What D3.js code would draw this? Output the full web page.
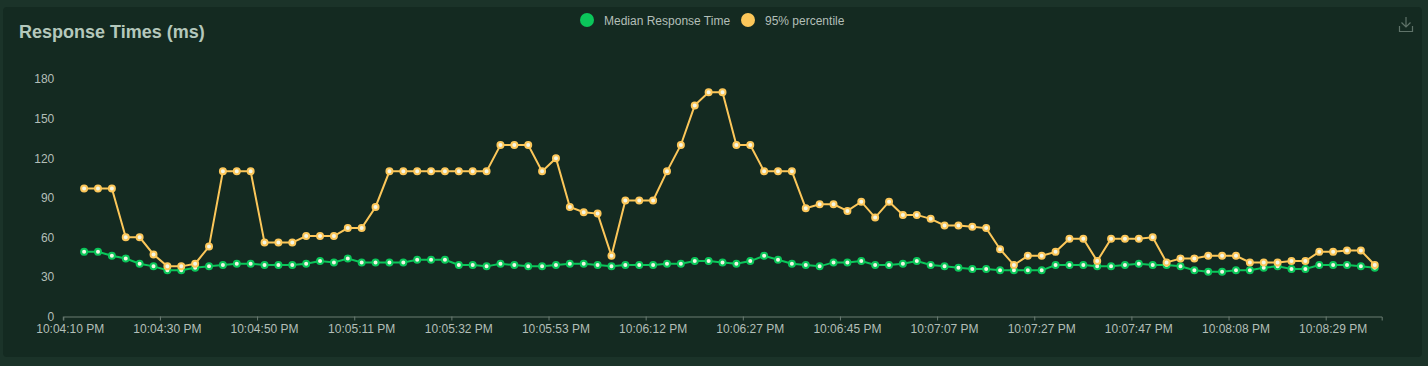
<!DOCTYPE html>
<html lang="en">
<head>
  <title>Response Times</title>
  <script src="https://d3js.org/d3.v7.min.js"></script>
  <style>
    html, body { margin: 0; padding: 0; background: #1b3329; }
    svg { display: block; font-family: "Liberation Sans", Arial, sans-serif; }
  </style>
</head>
<body>
  <div id="chart"></div>
  <script>
    // data (first category has no value)
    const tickLabels = ["10:04:10 PM", "10:04:30 PM", "10:04:50 PM", "10:05:11 PM", "10:05:32 PM",
      "10:05:53 PM", "10:06:12 PM", "10:06:27 PM", "10:06:45 PM", "10:07:07 PM",
      "10:07:27 PM", "10:07:47 PM", "10:08:08 PM", "10:08:29 PM"];
    const labelEvery = 7;
    const categoryCount = 95;

    const median = [null,
      49, 49, 46, 44, 40, 38, 35, 35, 37, 38, 39, 40, 40, 39, 39, 39, 40, 42, 41, 44,
      41, 41, 41, 41, 43, 43, 43, 39, 39, 38, 40, 39, 38, 38, 39, 40, 40, 39, 38, 39,
      39, 39, 40, 40, 42, 42, 41, 40, 42, 46, 43, 40, 39, 38, 41, 41, 42, 39, 39, 40,
      42, 39, 38, 37, 36, 36, 35, 35, 35, 35, 39, 39, 39, 38, 38, 39, 40, 39, 39, 38,
      35, 34, 34, 35, 35, 37, 38, 36, 36, 39, 39, 39, 38, 37];

    const p95 = [null,
      97, 97, 97, 60, 60, 47, 38, 38, 40, 53, 110, 110, 110, 56, 56, 56, 61, 61, 61, 67,
      67, 83, 110, 110, 110, 110, 110, 110, 110, 110, 130, 130, 130, 110, 120, 83, 79, 78, 46, 88,
      88, 88, 110, 130, 160, 170, 170, 130, 130, 110, 110, 110, 82, 85, 85, 80, 87, 75, 87, 77,
      77, 74, 69, 69, 68, 67, 51, 39, 46, 46, 49, 59, 59, 42, 59, 59, 59, 60, 41, 44,
      44, 46, 46, 46, 41, 41, 41, 42, 42, 49, 49, 50, 50, 39];

    const yTicks = [0, 30, 60, 90, 120, 150, 180];

    const series = [
      { name: "Median Response Time", values: median, color: "#0bc65a" },
      { name: "95% percentile", values: p95, color: "#fcc75a" }
    ];

    const W = 1428, H = 366;
    const svg = d3.select("#chart").append("svg")
      .attr("width", W).attr("height", H);

    // panel
    svg.append("rect")
      .attr("x", 3).attr("y", 7).attr("width", 1419).attr("height", 350)
      .attr("rx", 4).attr("fill", "#142a21");

    svg.append("text")
      .attr("x", 19).attr("y", 38)
      .attr("fill", "#b4c8bc").attr("font-size", 18).attr("font-weight", "bold")
      .text("Response Times (ms)");

    // download icon
    const icon = svg.append("g").attr("stroke", "#5f7369").attr("stroke-width", 1.2).attr("fill", "none");
    icon.append("path").attr("d", "M1406,17 L1406,27 M1401.5,22.5 L1406,27 L1410.5,22.5");
    icon.append("path").attr("d", "M1399.5,26 L1399.5,31.5 L1412.5,31.5 L1412.5,26");

    // legend
    const legend = svg.append("g");
    const legendX = [587, 748];
    series.forEach((s, i) => {
      legend.append("circle").attr("cx", legendX[i]).attr("cy", 20).attr("r", 7).attr("fill", s.color);
      legend.append("text").attr("x", legendX[i] + 17).attr("y", 24.5)
        .attr("fill", "#b3bfb8").attr("font-size", 12).text(s.name);
    });

    // scales
    const x = d3.scaleBand()
      .domain(d3.range(categoryCount))
      .range([63.3, 1381.7])
      .padding(0);
    const bw = x.bandwidth();
    const y = d3.scaleLinear().domain([0, 180]).range([316.5, 79]);

    // x axis
    const xAxis = svg.append("g")
      .attr("transform", "translate(0,316.5)")
      .call(d3.axisBottom(x)
        .tickValues(d3.range(0, categoryCount, labelEvery))
        .tickFormat(i => tickLabels[i / labelEvery])
        .tickSizeInner(4).tickSizeOuter(4).tickPadding(4));
    xAxis.select(".domain").attr("stroke", "#6b7c73");
    xAxis.selectAll(".tick line").attr("stroke", "#6b7c73")
      .attr("x1", -bw / 2).attr("x2", -bw / 2);
    xAxis.selectAll(".tick text").attr("fill", "#b3bfb8").attr("font-size", 12)
      .attr("font-family", "Liberation Sans, Arial, sans-serif");

    // y axis
    const yAxis = svg.append("g")
      .attr("transform", "translate(63.3,0)")
      .call(d3.axisLeft(y).tickValues(yTicks).tickSize(0).tickPadding(9));
    yAxis.select(".domain").remove();
    yAxis.selectAll(".tick text").attr("fill", "#b3bfb8").attr("font-size", 12)
      .attr("font-family", "Liberation Sans, Arial, sans-serif");

    const cx = i => x(i) + bw / 2;
    const line = d3.line()
      .defined(d => d != null)
      .x((d, i) => cx(i))
      .y(d => y(d));

    series.forEach(s => {
      svg.append("path")
        .datum(s.values)
        .attr("d", line)
        .attr("fill", "none")
        .attr("stroke", s.color)
        .attr("stroke-width", 2);
    });

    series.forEach(s => {
      svg.append("g").selectAll("circle")
        .data(s.values.map((v, i) => ({ v, i })).filter(d => d.v != null))
        .join("circle")
        .attr("cx", d => cx(d.i))
        .attr("cy", d => y(d.v))
        .attr("r", 3)
        .attr("fill", "#f3f6e6")
        .attr("stroke", s.color)
        .attr("stroke-width", 2);
    });
  </script>
</body>
</html>
